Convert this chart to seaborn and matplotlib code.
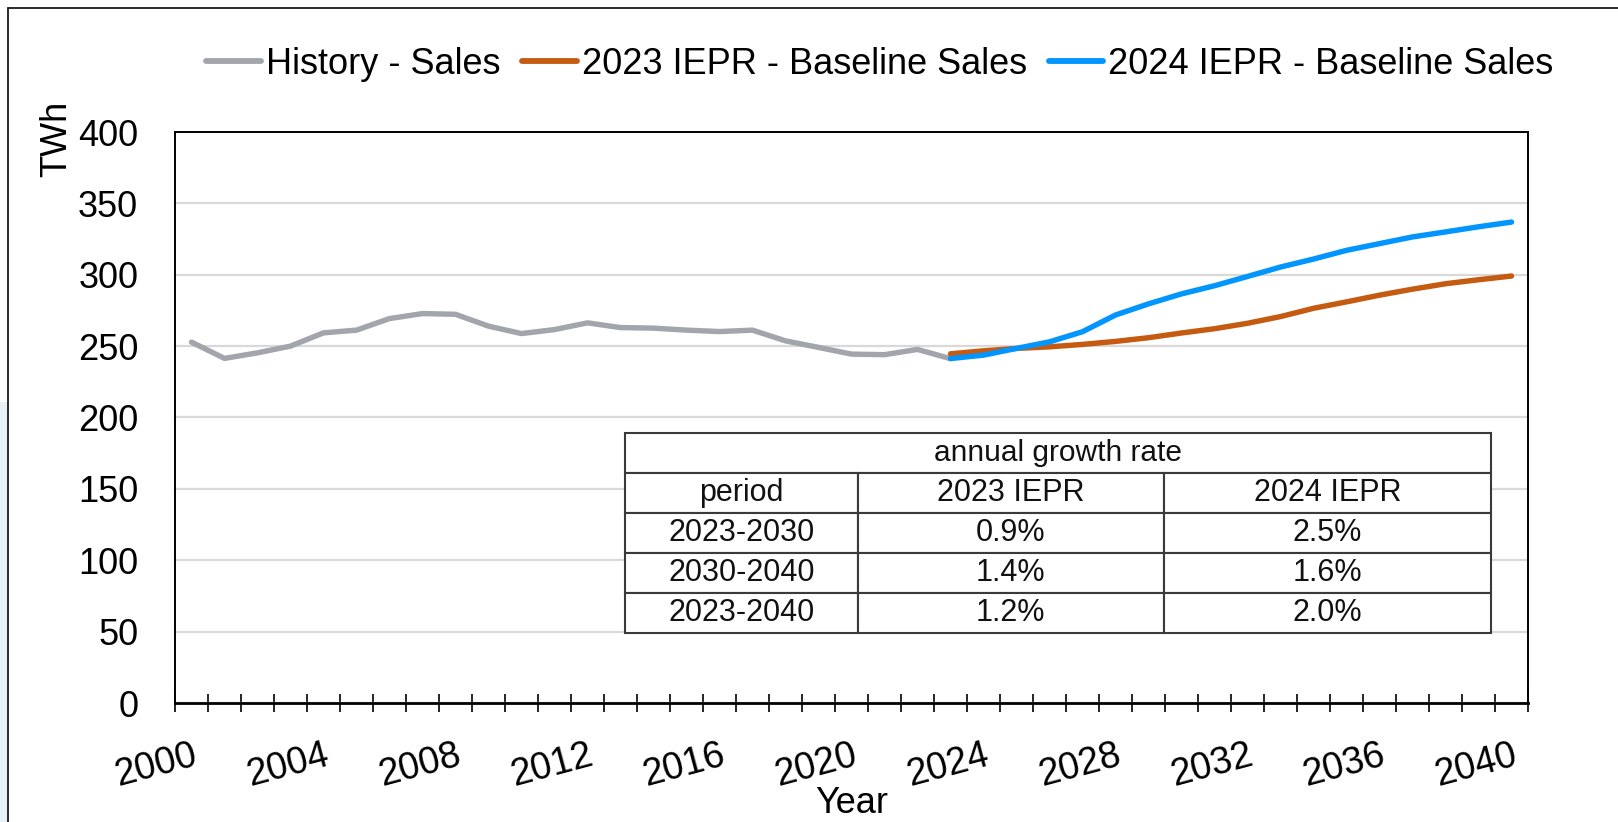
import numpy as np
import pandas as pd
import matplotlib
matplotlib.use('Agg')
import matplotlib.pyplot as plt
import seaborn as sns
from matplotlib.lines import Line2D
from matplotlib.patches import Rectangle
from matplotlib.ticker import FixedLocator

# ---------------- data ----------------
hist_years = list(range(2000, 2024))
hist_sales = [252.8, 241.4, 245.3, 250.0, 259.3, 261.2, 269.3, 272.8, 272.3, 264.0,
              258.8, 261.6, 266.3, 263.0, 262.6, 261.2, 260.2, 261.2, 253.7, 249.1,
              244.4, 244.0, 247.7, 241.2]
fc_years = list(range(2023, 2041))
iepr2023 = [244.6, 246.7, 248.4, 249.5, 251.2, 253.3, 255.9, 259.2, 262.2, 266.0,
            270.7, 276.5, 281.0, 285.7, 289.9, 293.7, 296.5, 299.1]
iepr2024 = [241.3, 243.7, 248.4, 253.0, 260.1, 271.8, 279.6, 286.6, 292.3, 298.8,
            305.4, 311.0, 317.1, 321.8, 326.5, 330.0, 333.6, 336.9]
series_names = ["History - Sales", "2023 IEPR - Baseline Sales", "2024 IEPR - Baseline Sales"]
series_colors = ["#A2A6AC", "#C55A11", "#0095FF"]
x_label_years = list(range(2000, 2041, 4))
y_ticks = [0, 50, 100, 150, 200, 250, 300, 350, 400]

table_title = "annual growth rate"
table_header = ["period", "2023 IEPR", "2024 IEPR"]
periods = ["2023-2030", "2030-2040", "2023-2040"]
rate_2023 = ["0.9%", "1.4%", "1.2%"]
rate_2024 = ["2.5%", "1.6%", "2.0%"]

df = pd.concat([
    pd.DataFrame({"year": hist_years, "TWh": hist_sales, "series": series_names[0]}),
    pd.DataFrame({"year": fc_years, "TWh": iepr2023, "series": series_names[1]}),
    pd.DataFrame({"year": fc_years, "TWh": iepr2024, "series": series_names[2]}),
], ignore_index=True)

# ---------------- style ----------------
sns.set_theme(style="white")
plt.rcParams['font.family'] = ['Liberation Sans', 'DejaVu Sans']

W, H = 1618, 822
fig = plt.figure(figsize=(W / 100, H / 100), dpi=100)
ax = fig.add_axes([175 / W, (H - 703) / H, 1353 / W, 571 / H])

palette = dict(zip(series_names, series_colors))
sns.lineplot(data=df, x="year", y="TWh", hue="series", hue_order=series_names,
             palette=palette, linewidth=3.9, ax=ax, legend=False,
             solid_capstyle='round', zorder=3)

ax.set_xlim(1999.5, 2040.5)
ax.set_ylim(0, 400)

# y axis
ax.set_yticks(y_ticks)
ax.set_yticklabels([str(v) for v in y_ticks])
ax.tick_params(axis='y', length=0, pad=26.5, labelsize=26, labelcolor='black')
ax.grid(axis='y', color='#D9D9D9', linewidth=1.6, zorder=0)
ax.grid(axis='x', visible=False)

# x axis: category style
ax.set_xticks(x_label_years)
ax.set_xticklabels([str(v) for v in x_label_years])
ax.xaxis.set_minor_locator(FixedLocator(np.arange(1999.5, 2041.0, 1.0)))
ax.tick_params(axis='x', which='major', length=0, pad=25, labelsize=27, labelcolor='black')
ax.tick_params(axis='x', which='minor', direction='inout', length=13, width=1.2,
               color='black', bottom=True)
for lab in ax.get_xticklabels():
    lab.set_rotation(15)
    lab.set_ha('right')
    lab.set_va('top')
    lab.set_rotation_mode('anchor')

for side in ['left', 'right', 'top']:
    ax.spines[side].set_color('black')
    ax.spines[side].set_linewidth(1.4)
ax.spines['bottom'].set_color('black')
ax.spines['bottom'].set_linewidth(2.0)

ax.set_xlabel("Year", fontsize=26, color='black')
ax.xaxis.set_label_coords((852 - 175) / 1353, (703 - 803) / 571)
ax.xaxis.label.set_va('center')
ax.set_ylabel("TWh", fontsize=26, color='black')
ax.yaxis.set_label_coords((57 - 175) / 1353, (703 - 139) / 571)
ax.yaxis.label.set_va('center')

# ---------------- table ----------------
t_left = (625 - 175) / 1353
t_right = (1491 - 175) / 1353
t_top = (703 - 433) / 571
t_bottom = (703 - 633) / 571
col_w = [232.5, 306.5, 327.0]
tot = sum(col_w)
col_w = [c / tot for c in col_w]
cell_text = [["", "", ""], table_header] + [list(r) for r in zip(periods, rate_2023, rate_2024)]
tbl = ax.table(cellText=cell_text, colWidths=col_w, cellLoc='center',
               bbox=[t_left, t_bottom, t_right - t_left, t_top - t_bottom], zorder=5)
tbl.auto_set_font_size(False)
tbl.set_fontsize(22)
for (r, c), cell in tbl.get_celld().items():
    cell.set_edgecolor('#3A3A3A')
    cell.set_linewidth(1.5)
    cell.set_facecolor('white')
    cell.get_text().set_color('#111111')
    if r == 0:
        cell.visible_edges = {0: 'BTL', 1: 'BT', 2: 'BTR'}[c]
row_h = (t_top - t_bottom) / 5
ax.text((t_left + t_right) / 2, t_top - row_h / 2, table_title, transform=ax.transAxes,
        ha='center', va='center', fontsize=21.5, color='#111111', zorder=6)

# ---------------- legend ----------------
handles = [Line2D([0], [0], color=c, linewidth=4.2, solid_capstyle='round') for c in series_colors]
fig.legend(handles, series_names, loc='center', bbox_to_anchor=(880 / W, 1 - 64 / H),
           ncol=3, frameon=False, fontsize=26, handlelength=1.5, handletextpad=0.14,
           columnspacing=0.62, labelcolor='black')

# ---------------- slide frame ----------------
fig.patches.append(Rectangle((0, 0), 7 / W, 420 / H, transform=fig.transFigure,
                             facecolor='#E8F0F8', edgecolor='none', zorder=0))
fig.add_artist(Line2D([8 / W, 1.0], [1 - 8 / H, 1 - 8 / H], transform=fig.transFigure,
                      color='#1A1A1A', linewidth=1.3))
fig.add_artist(Line2D([8 / W, 8 / W], [0, 1 - 8 / H], transform=fig.transFigure,
                      color='#1A1A1A', linewidth=1.3))

fig.savefig("out.png", dpi=100, facecolor='white')
